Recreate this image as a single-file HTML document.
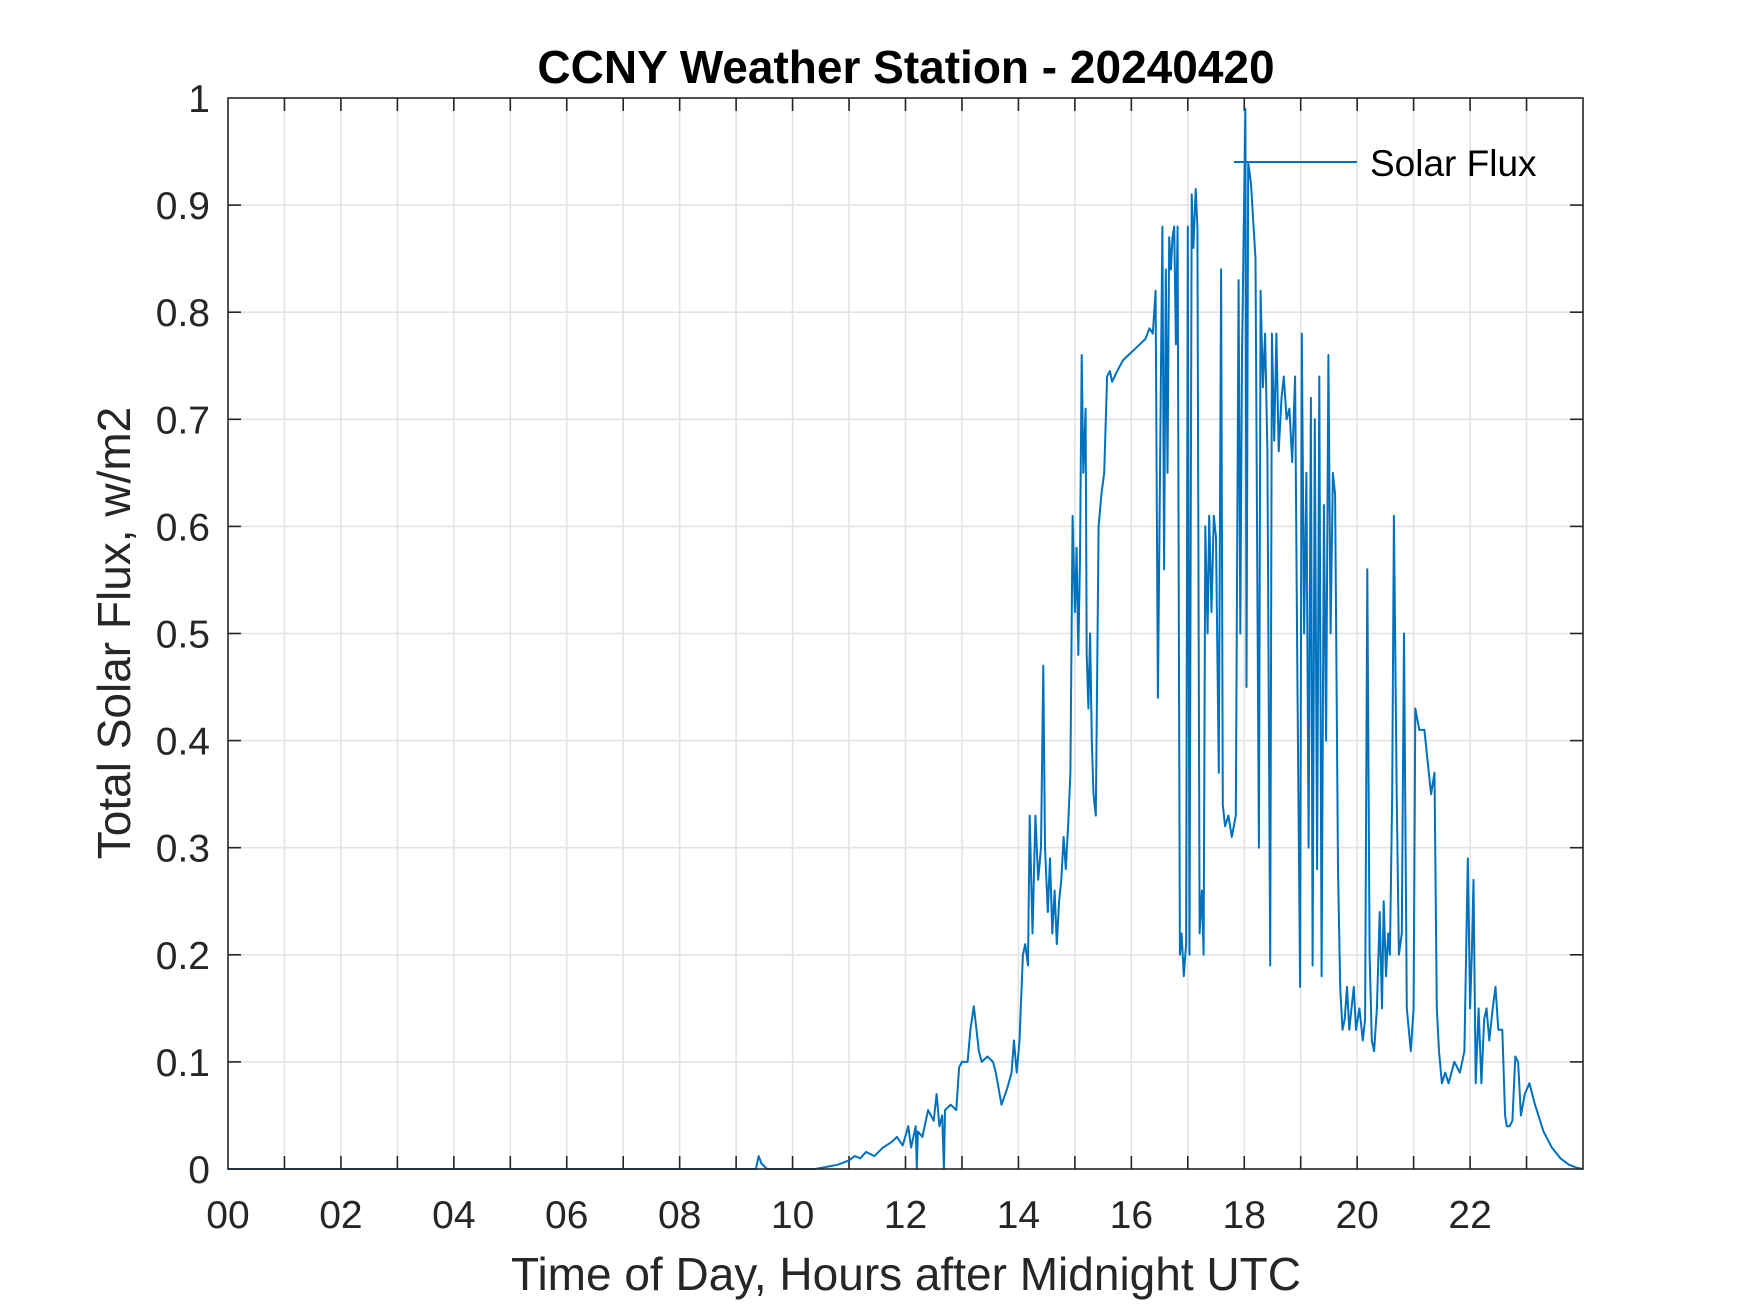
<!DOCTYPE html>
<html><head><meta charset="utf-8"><title>CCNY Weather Station - 20240420</title>
<style>
html,body{margin:0;padding:0;background:#fff;}
svg{display:block;font-family:"Liberation Sans",Arial,sans-serif;}
</style></head>
<body>
<svg id="chart" width="1750" height="1313" viewBox="0 0 1750 1313" xmlns="http://www.w3.org/2000/svg">
<rect width="1750" height="1313" fill="#fff"/>
<g id="grid"></g>
<g id="ticks"></g>
<g id="series"></g>
<rect x="228" y="98" width="1355" height="1071" fill="none" stroke="#262626" stroke-width="1.6"/>
<g id="labels" font-size="39" fill="#262626"></g>
<text x="906" y="83" text-anchor="middle" font-size="46" font-weight="bold" fill="#000">CCNY Weather Station - 20240420</text>
<text x="906" y="1290" text-anchor="middle" font-size="46" fill="#262626">Time of Day, Hours after Midnight UTC</text>
<text transform="translate(130,633) rotate(-90)" text-anchor="middle" font-size="46" fill="#262626">Total Solar Flux, w/m2</text>
<g>
<line x1="1234" y1="162" x2="1357" y2="162" stroke="#0072BD" stroke-width="2"/>
<text x="1370" y="176" font-size="37" fill="#000">Solar Flux</text>
</g>
</svg>
<script>
const readings = [
[0,0],[9.35,0],[9.4,0.012],[9.45,0.005],[9.55,0],[9.7,0],[10.4,0],[10.6,0.002],[10.8,0.004],[11.0,0.008],
[11.1,0.012],[11.2,0.01],[11.3,0.016],[11.45,0.012],[11.6,0.02],[11.75,0.025],[11.85,0.03],[11.95,0.022],[12.05,0.04],[12.1,0.02],
[12.18,0.04],[12.2,0],[12.22,0.035],[12.3,0.03],[12.4,0.055],[12.5,0.045],[12.55,0.07],[12.6,0.04],[12.65,0.05],[12.68,0],
[12.7,0.055],[12.8,0.06],[12.9,0.055],[12.95,0.095],[13.0,0.1],[13.1,0.1],[13.15,0.13],[13.21,0.152],[13.3,0.11],[13.35,0.1],
[13.45,0.105],[13.55,0.1],[13.6,0.09],[13.7,0.06],[13.8,0.075],[13.88,0.09],[13.92,0.12],[13.97,0.09],[14.02,0.12],[14.08,0.2],
[14.12,0.21],[14.17,0.19],[14.2,0.33],[14.25,0.22],[14.3,0.33],[14.35,0.27],[14.4,0.3],[14.44,0.47],[14.47,0.3],[14.52,0.24],
[14.56,0.29],[14.6,0.22],[14.64,0.26],[14.68,0.21],[14.72,0.25],[14.76,0.27],[14.8,0.31],[14.84,0.28],[14.88,0.32],[14.92,0.37],
[14.96,0.61],[15.0,0.52],[15.03,0.58],[15.06,0.48],[15.09,0.57],[15.12,0.76],[15.15,0.65],[15.19,0.71],[15.21,0.48],[15.24,0.43],
[15.27,0.5],[15.3,0.4],[15.33,0.35],[15.37,0.33],[15.42,0.6],[15.47,0.63],[15.52,0.65],[15.57,0.74],[15.62,0.745],[15.66,0.735],
[15.75,0.745],[15.85,0.755],[15.95,0.76],[16.05,0.765],[16.15,0.77],[16.25,0.775],[16.32,0.785],[16.38,0.78],[16.43,0.82],[16.47,0.44],
[16.52,0.72],[16.55,0.88],[16.58,0.56],[16.61,0.84],[16.64,0.65],[16.67,0.87],[16.7,0.84],[16.73,0.87],[16.76,0.88],[16.79,0.77],
[16.82,0.88],[16.86,0.2],[16.89,0.22],[16.93,0.18],[16.97,0.21],[17.0,0.88],[17.03,0.2],[17.07,0.91],[17.1,0.86],[17.14,0.915],
[17.17,0.88],[17.21,0.22],[17.25,0.26],[17.28,0.2],[17.31,0.6],[17.35,0.5],[17.38,0.61],[17.42,0.52],[17.46,0.61],[17.5,0.59],
[17.55,0.37],[17.59,0.84],[17.62,0.34],[17.66,0.32],[17.72,0.33],[17.78,0.31],[17.85,0.33],[17.9,0.83],[17.93,0.5],[17.96,0.76],
[18.02,0.99],[18.04,0.45],[18.07,0.94],[18.12,0.92],[18.2,0.85],[18.26,0.3],[18.29,0.82],[18.33,0.73],[18.37,0.78],[18.41,0.67],
[18.46,0.19],[18.49,0.78],[18.53,0.68],[18.57,0.78],[18.61,0.67],[18.66,0.72],[18.7,0.74],[18.75,0.7],[18.8,0.71],[18.85,0.66],
[18.9,0.74],[18.94,0.47],[18.99,0.17],[19.02,0.78],[19.06,0.5],[19.1,0.65],[19.14,0.3],[19.18,0.72],[19.21,0.19],[19.25,0.7],
[19.29,0.28],[19.33,0.74],[19.37,0.18],[19.41,0.62],[19.45,0.4],[19.49,0.76],[19.53,0.5],[19.57,0.65],[19.61,0.63],[19.66,0.28],
[19.7,0.17],[19.74,0.13],[19.78,0.14],[19.82,0.17],[19.86,0.13],[19.9,0.15],[19.94,0.17],[19.98,0.13],[20.04,0.15],[20.1,0.12],
[20.14,0.14],[20.18,0.56],[20.22,0.2],[20.26,0.12],[20.3,0.11],[20.35,0.15],[20.4,0.24],[20.44,0.15],[20.47,0.25],[20.51,0.18],
[20.55,0.22],[20.58,0.2],[20.62,0.35],[20.65,0.61],[20.7,0.35],[20.74,0.2],[20.79,0.22],[20.83,0.5],[20.88,0.15],[20.95,0.11],
[21.0,0.15],[21.03,0.43],[21.1,0.41],[21.19,0.41],[21.25,0.38],[21.31,0.35],[21.37,0.37],[21.41,0.15],[21.45,0.11],[21.5,0.08],
[21.56,0.09],[21.62,0.08],[21.72,0.1],[21.82,0.09],[21.9,0.11],[21.96,0.29],[22.0,0.15],[22.03,0.2],[22.06,0.27],[22.1,0.08],
[22.15,0.15],[22.2,0.08],[22.25,0.14],[22.29,0.15],[22.34,0.12],[22.4,0.15],[22.45,0.17],[22.5,0.13],[22.57,0.13],[22.62,0.05],
[22.65,0.04],[22.7,0.04],[22.75,0.045],[22.8,0.105],[22.85,0.1],[22.9,0.05],[22.97,0.07],[23.05,0.08],[23.15,0.06],[23.3,0.035],
[23.45,0.02],[23.6,0.01],[23.75,0.004],[23.9,0.001],[24,0]
];
const xTickLabels = ["00","02","04","06","08","10","12","14","16","18","20","22"];
const yTickLabels = ["0","0.1","0.2","0.3","0.4","0.5","0.6","0.7","0.8","0.9","1"];

const L=228,R=1583,T=98,B=1169;
const x = h => L + (R-L)*h/24;
const y = v => B - (B-T)*v;
const NS="http://www.w3.org/2000/svg";
function mk(tag, parent){const e=document.createElementNS(NS,tag);parent.appendChild(e);return e;}
const grid=document.getElementById('grid'), ticks=document.getElementById('ticks'), labels=document.getElementById('labels'), series=document.getElementById('series');

for(let h=1;h<24;h++){
  const g=mk('line',grid);
  
  
  g.setAttribute('x1',x(h));g.setAttribute('x2',x(h));g.setAttribute('y1',T);g.setAttribute('y2',B);
  g.setAttribute('stroke','#e3e3e3');g.setAttribute('stroke-width','1.6');
  [[B,B-13],[T,T+13]].forEach(p=>{
    const t=mk('line',ticks);
    
    
    t.setAttribute('x1',x(h));t.setAttribute('x2',x(h));t.setAttribute('y1',p[0]);t.setAttribute('y2',p[1]);
    t.setAttribute('stroke','#262626');t.setAttribute('stroke-width','1.6');
  });
}
xTickLabels.forEach((s,i)=>{
  const t=mk('text',labels);
  
  
  t.setAttribute('x',x(i*2));t.setAttribute('y',1228);t.setAttribute('text-anchor','middle');
  t.textContent=s;
});
yTickLabels.forEach((s,i)=>{
  const v=i/10;
  if(i>0&&i<10){
    const g=mk('line',grid);
    
    
    g.setAttribute('x1',L);g.setAttribute('x2',R);g.setAttribute('y1',y(v));g.setAttribute('y2',y(v));
    g.setAttribute('stroke','#e3e3e3');g.setAttribute('stroke-width','1.6');
    [[L,L+13],[R,R-13]].forEach(p=>{
      const t=mk('line',ticks);
      
      
      t.setAttribute('x1',p[0]);t.setAttribute('x2',p[1]);t.setAttribute('y1',y(v));t.setAttribute('y2',y(v));
      t.setAttribute('stroke','#262626');t.setAttribute('stroke-width','1.6');
    });
  }
  const t=mk('text',labels);
  
  
  t.setAttribute('x',210);t.setAttribute('y',y(v)+14);t.setAttribute('text-anchor','end');
  t.textContent=s;
});
const pl=mk('polyline',series);


pl.setAttribute('points',readings.map(r=>x(r[0]).toFixed(1)+','+y(r[1]).toFixed(1)).join(' '));
pl.setAttribute('fill','none');pl.setAttribute('stroke','#0072BD');pl.setAttribute('stroke-width','2');pl.setAttribute('stroke-linejoin','round');
</script>
</body></html>
